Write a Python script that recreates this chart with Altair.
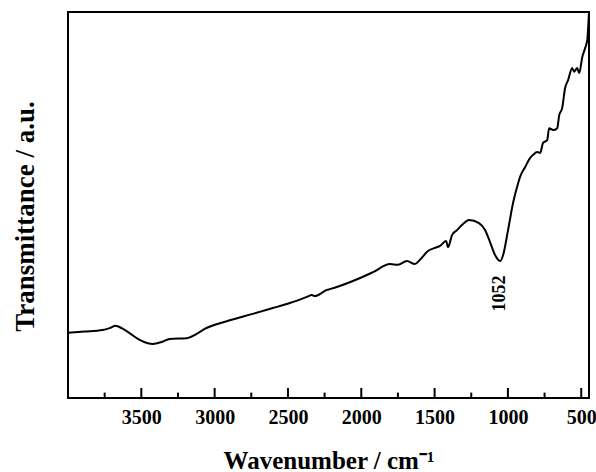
import altair as alt
import pandas as pd

# FTIR spectrum
wavenumber = [3999, 3887, 3764, 3716, 3675, 3634, 3580, 3498, 3422, 3361, 3306, 3191,
              3123, 3068, 2918, 2740, 2603, 2487, 2371, 2337, 2316, 2234, 2214, 2057,
              1920, 1804, 1750, 1688, 1634, 1600, 1545, 1497, 1463, 1422, 1408, 1381,
              1347, 1306, 1265, 1197, 1156, 1122, 1087, 1052, 1033, 999, 965, 930,
              917, 883, 848, 828, 801, 780, 760, 732, 719, 691, 664, 650,
              630, 610, 589, 562, 548, 528, 514, 493, 473, 459, 448]
transmittance = [16.9, 17.2, 17.6, 18.1, 18.7, 18.1, 16.8, 14.8, 14.0, 14.5, 15.3, 15.5,
                 16.6, 17.9, 19.9, 21.8, 23.3, 24.6, 26.2, 26.7, 26.4, 28.0, 28.2, 30.3,
                 32.6, 34.7, 34.5, 35.5, 34.7, 35.8, 38.1, 38.9, 39.4, 40.7, 39.1, 42.2,
                 43.5, 45.1, 46.1, 45.3, 43.5, 40.4, 37.0, 35.5, 37.0, 43.5, 50.5, 55.7,
                 57.3, 59.8, 62.2, 63.0, 63.7, 63.5, 66.1, 66.8, 69.9, 69.4, 69.9, 73.3,
                 75.1, 80.3, 82.4, 85.5, 84.5, 85.5, 84.2, 88.3, 90.7, 92.7, 99.5]

major_ticks = [3500, 3000, 2500, 2000, 1500, 1000, 500]
minor_ticks = [3750, 3250, 2750, 2250, 1750, 1250, 750]

peak_labels = ["1052"]
peak_positions = [1052]
peak_label_level = [27.1]

FONT = "Liberation Serif"
X_DOMAIN = [4000, 447]
Y_DOMAIN = [0, 100]

df = pd.DataFrame({"wn": wavenumber, "T": transmittance})
df_ticks = pd.DataFrame({
    "wn": major_ticks + minor_ticks,
    "y0": [0.0] * (len(major_ticks) + len(minor_ticks)),
    "y1": [2.6] * len(major_ticks) + [1.4] * len(minor_ticks),
})
df_peak = pd.DataFrame({"wn": peak_positions, "T": peak_label_level, "label": peak_labels})

xscale = alt.Scale(domain=X_DOMAIN, nice=False, zero=False)
yscale = alt.Scale(domain=Y_DOMAIN, nice=False, zero=False)

xaxis = alt.Axis(title="Wavenumber / cm⁻¹", values=major_ticks, format="d",
                 tickSize=0, domain=False, grid=False,
                 labelFont=FONT, labelFontSize=20, labelFontWeight="bold",
                 labelColor="black", labelPadding=9, labelFlush=False,
                 titleFont=FONT, titleFontSize=25, titleFontWeight="bold",
                 titleColor="black", titleBaseline="alphabetic", titleY=70)
yaxis = alt.Axis(title="Transmittance / a.u.", labels=False, ticks=False,
                 domain=False, grid=False,
                 titleFont=FONT, titleFontSize=27, titleFontWeight="bold",
                 titleColor="black", titleBaseline="alphabetic",
                 titleX=-35, titleY=204, titleAngle=-90, titleAlign="center")

ticks = alt.Chart(df_ticks).mark_rule(color="black", strokeWidth=2).encode(
    x=alt.X("wn:Q", scale=xscale, axis=xaxis),
    y=alt.Y("y0:Q", scale=yscale, axis=yaxis), y2="y1:Q")

line = alt.Chart(df).mark_line(color="black", strokeWidth=2, interpolate="monotone").encode(
    x=alt.X("wn:Q", scale=xscale),
    y=alt.Y("T:Q", scale=yscale),
)

label = alt.Chart(df_peak).mark_text(font=FONT, fontSize=18, fontWeight="bold",
                                     angle=270, align="center", baseline="middle",
                                     color="black").encode(
    x=alt.X("wn:Q", scale=xscale), y=alt.Y("T:Q", scale=yscale), text="label:N")

chart = alt.layer(ticks, line, label).properties(
    width=521, height=386,
    autosize=alt.AutoSizeParams(type="none"),
    padding={"left": 68, "top": 12, "right": 7, "bottom": 74},
    background="white",
).configure_view(stroke="black", strokeWidth=2)

chart.save("out.html", embed_options={"renderer": "svg", "actions": False})
